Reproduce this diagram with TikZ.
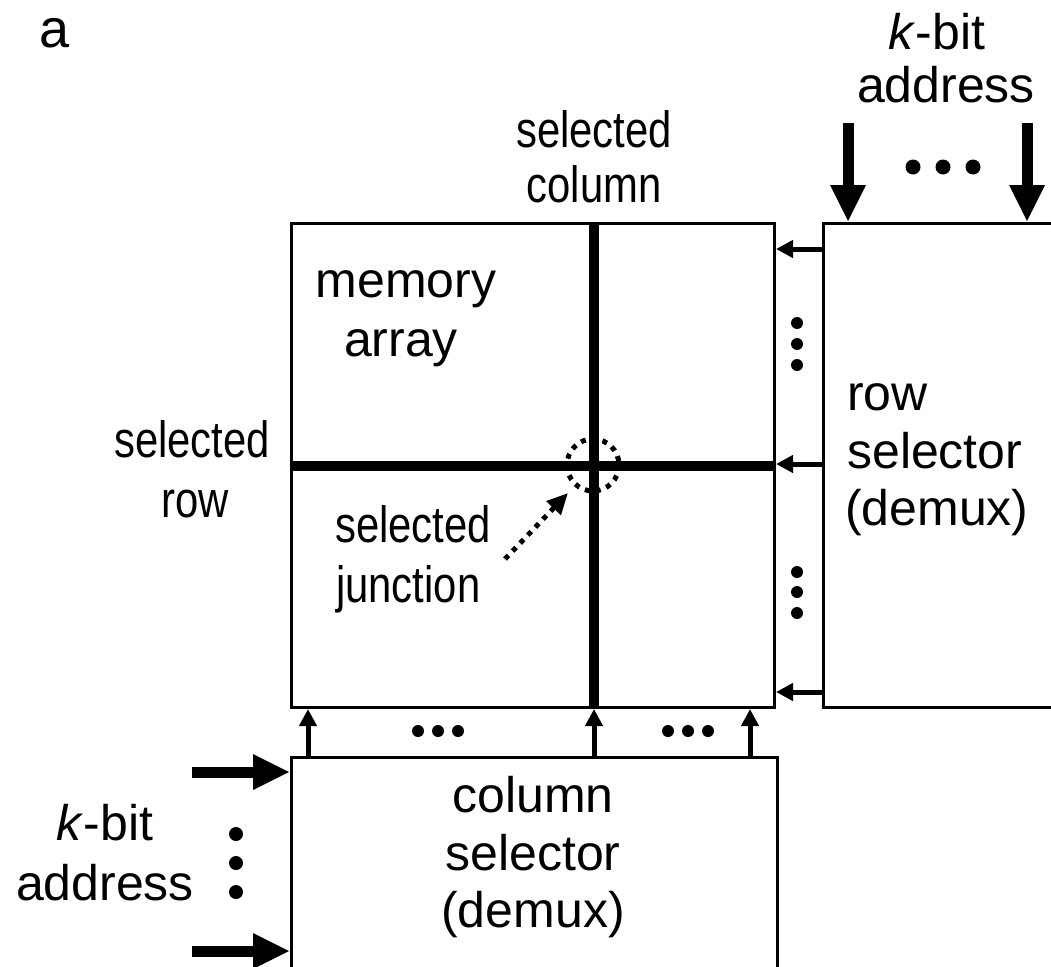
\documentclass[tikz,border=0pt]{standalone}
\usepackage{fontspec}
\setmainfont{Liberation Sans}
\newfontfamily\narrowfont[FakeStretch=0.82]{Liberation Sans}
\usetikzlibrary{arrows.meta}

\begin{document}
\begin{tikzpicture}[x=1pt,y=-1pt,
  box/.style={draw, line width=3pt, inner sep=0pt, anchor=north west},
  lbl/.style={font=\fontsize{50}{57}\selectfont, inner sep=0pt},
  nlbl/.style={font=\narrowfont\fontsize{51}{57}\selectfont, inner sep=0pt},
  bigarrow/.style={line width=11pt, -{Triangle[length=37pt,width=33pt]}},
  smallarrow/.style={line width=5pt, -{Triangle[length=17pt,width=17pt]}},
  selline/.style={line width=10pt},
  dotline/.style={line width=5pt, dash pattern=on 5pt off 6pt},
  dotarrow/.style={dotline, -{Triangle[length=21pt,width=19pt]}}
]
\useasboundingbox (0,0) rectangle (1051,966);
\clip (0,0) rectangle (1051,966);

% blocks
\node[box, minimum width=483pt, minimum height=484pt] (mem) at (290,222) {};
\node[box, minimum width=300pt, minimum height=484pt] (rowsel) at (822,222) {};
\node[box, minimum width=486pt, minimum height=300pt] (colsel) at (290,756) {};

% selected column and row lines
\draw[selline] (mem.north -| 594,0) -- (mem.south -| 594,0);
\draw[selline] (mem.west |- 0,466) -- (mem.east |- 0,466);

% selected junction marker
\coordinate (junc) at (593,465);
\draw[dotline] (junc) circle (26);
\coordinate (jtail) at (505,559);
\coordinate (jtip) at (568,493);
\draw[dotarrow] (jtail) -- (jtip);

% row selector outputs
\foreach \yy in {249, 464, 692}
  \draw[smallarrow] (rowsel.west |- 0,\yy) -- (mem.east |- 0,\yy);

% column selector outputs
\foreach \xx in {308, 594, 750}
  \draw[smallarrow] (colsel.north -| \xx,0) -- (mem.south -| \xx,0);

% address inputs
\coordinate (ta1) at (848,123);
\coordinate (ta2) at (1027,123);
\draw[bigarrow] (ta1) -- (rowsel.north -| ta1);
\draw[bigarrow] (ta2) -- (rowsel.north -| ta2);
\coordinate (la1) at (192,772);
\coordinate (la2) at (192,951);
\draw[bigarrow] (la1) -- (colsel.west |- la1);
\draw[bigarrow] (la2) -- (colsel.west |- la2);

% ellipsis dots
\foreach \xx in {913,943,973} \fill (\xx,167) circle (7.5);
\foreach \yy in {323,344,365,572,592,613} \fill (797,\yy) circle (6);
\foreach \xx in {418,438,458,668,688,708} \fill (\xx,731) circle (6);
\foreach \yy in {834,863,892} \fill (236,\yy) circle (7);

% labels
\node[lbl, font=\fontsize{54}{60}\selectfont, anchor=base] (tag) at (55,48) {a};

\node[lbl, anchor=base] (tk) at (937,50) {\textit{k}-bit};
\node[lbl, anchor=base] (ta) at (946,102) {address};

\node[nlbl, anchor=base] (sc1) at (594,147) {selected};
\node[nlbl, anchor=base] (sc2) at (594,202) {column};

\node[lbl, anchor=base] (m1) at (406,297) {memory};
\node[lbl, anchor=base] (m2) at (401,356) {array};

\node[nlbl, anchor=base] (sr1) at (192,457) {selected};
\node[nlbl, anchor=base] (sr2) at (195,517) {row};

\node[nlbl, anchor=base west] (sj1) at (335,542) {selected};
\node[nlbl, anchor=base west] (sj2) at (336,602) {junction};

\node[lbl, anchor=base west] (rs1) at (847,410) {row};
\node[lbl, anchor=base west] (rs2) at (847,468) {selector};
\node[lbl, anchor=base west] (rs3) at (845,525) {(demux)};

\node[lbl, anchor=base] (cs1) at (533,812) {column};
\node[lbl, anchor=base] (cs2) at (533,870) {selector};
\node[lbl, anchor=base] (cs3) at (533,927) {(demux)};

\node[lbl, anchor=base] (lk) at (105,840) {\textit{k}-bit};
\node[lbl, anchor=base] (la) at (105,900) {address};
\end{tikzpicture}
\end{document}
